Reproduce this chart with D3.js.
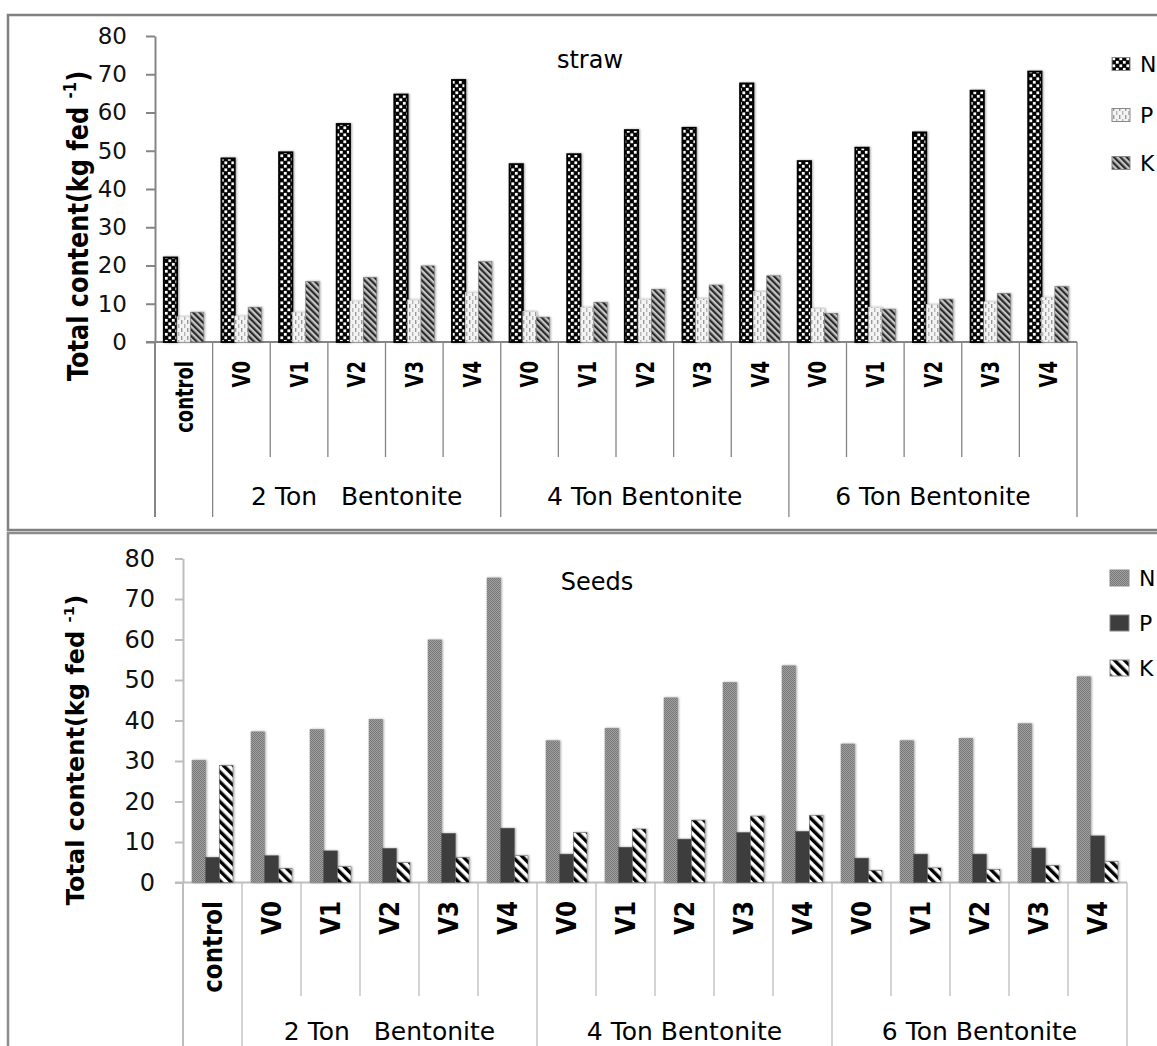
<!DOCTYPE html>
<html>
<head>
<meta charset="utf-8">
<script src="https://cdn.jsdelivr.net/npm/d3@7"></script>
<style>
  html, body { margin: 0; padding: 0; background: #fff; }
  svg { display: block; font-family: "DejaVu Sans", sans-serif; }
  text { white-space: pre; }
</style>
</head>
<body>
<svg id="chart" width="1157" height="1046"></svg>
<script>
// categories along the x axis
const categories = ["control", "V0", "V1", "V2", "V3", "V4", "V0", "V1", "V2", "V3", "V4", "V0", "V1", "V2", "V3", "V4"];
const groupLabels = ["2 Ton   Bentonite", "4 Ton Bentonite", "6 Ton Bentonite"];
const groupStart = [1, 6, 11];
const groupSize = 5;
const seriesNames = ["N", "P", "K"];
const yTicks = [0, 10, 20, 30, 40, 50, 60, 70, 80];

// straw (kg fed-1)
const strawN = [22.1, 48.0, 49.6, 57.0, 64.7, 68.5, 46.5, 49.1, 55.4, 56.0, 67.6, 47.3, 50.8, 54.8, 65.7, 70.7];
const strawP = [6.6, 6.8, 7.8, 10.7, 11.0, 13.0, 8.0, 9.1, 11.2, 11.4, 13.2, 8.8, 9.1, 9.8, 10.5, 11.7];
const strawK = [7.8, 9.1, 15.8, 16.9, 19.9, 21.0, 6.5, 10.4, 13.8, 14.9, 17.3, 7.5, 8.6, 11.2, 12.7, 14.5];

// seeds (kg fed-1)
const seedsN = [30.2, 37.2, 37.8, 40.3, 59.9, 75.2, 35.0, 38.1, 45.6, 49.4, 53.5, 34.2, 35.0, 35.6, 39.2, 50.8];
const seedsP = [6.2, 6.6, 7.8, 8.4, 12.1, 13.4, 7.0, 8.7, 10.7, 12.3, 12.6, 6.0, 7.0, 7.0, 8.5, 11.5];
const seedsK = [28.9, 3.5, 3.9, 4.9, 6.2, 6.6, 12.3, 13.2, 15.4, 16.4, 16.6, 3.0, 3.6, 3.2, 4.2, 5.2];

const svg = d3.select("#chart");
const defs = svg.append("defs");

// ----- patterns -----
function stripes(id, size, stripe, bg, fg) {
    const p = defs.append("pattern").attr("id", id)
        .attr("patternUnits", "userSpaceOnUse")
        .attr("width", size).attr("height", size)
        .attr("patternTransform", "rotate(-45)");
    p.append("rect").attr("width", size).attr("height", size).attr("fill", bg);
    p.append("rect").attr("width", stripe).attr("height", size).attr("fill", fg);
}

let p = defs.append("pattern").attr("id", "strawN").attr("patternUnits", "userSpaceOnUse").attr("width", 7).attr("height", 7);
p.append("rect").attr("width", 7).attr("height", 7).attr("fill", "#000");
p.append("rect").attr("x", 0.4).attr("y", 0.4).attr("width", 2.8).attr("height", 2.8).attr("fill", "#fff");
p.append("rect").attr("x", 3.9).attr("y", 3.9).attr("width", 2.8).attr("height", 2.8).attr("fill", "#fff");

p = defs.append("pattern").attr("id", "strawP").attr("patternUnits", "userSpaceOnUse").attr("width", 6).attr("height", 8);
p.append("rect").attr("width", 6).attr("height", 8).attr("fill", "#f3f3f3");
p.append("rect").attr("x", 1).attr("width", 1.4).attr("height", 4).attr("fill", "#9a9a9a");
p.append("rect").attr("x", 4).attr("y", 4).attr("width", 1.4).attr("height", 4).attr("fill", "#b5b5b5");

stripes("strawK", 4.5, 2.2, "#c4c4c4", "#2b2b2b");

p = defs.append("pattern").attr("id", "seedsN").attr("patternUnits", "userSpaceOnUse").attr("width", 2).attr("height", 2);
p.append("rect").attr("width", 2).attr("height", 2).attr("fill", "#a2a2a2");
p.append("rect").attr("width", 1).attr("height", 1).attr("fill", "#767676");
p.append("rect").attr("x", 1).attr("y", 1).attr("width", 1).attr("height", 1).attr("fill", "#767676");

stripes("seedsK", 7, 3.4, "#ffffff", "#000000");

const sh = defs.append("filter").attr("id", "shadow")
    .attr("x", "-40%").attr("y", "-10%").attr("width", "180%").attr("height", "120%");
sh.append("feDropShadow").attr("dx", 1).attr("dy", 0).attr("stdDeviation", 1.2)
    .attr("flood-color", "#000").attr("flood-opacity", 0.35);

// panel frames
svg.append("rect").attr("x", 8).attr("y", 15).attr("width", 1170).attr("height", 515)
    .attr("fill", "none").attr("stroke", "#808080").attr("stroke-width", 2.5);
svg.append("rect").attr("x", 8).attr("y", 533).attr("width", 1170).attr("height", 530)
    .attr("fill", "none").attr("stroke", "#8c8c8c").attr("stroke-width", 2.5);

function drawChart(o) {
    const g = svg.append("g");
    const data = [o.N, o.P, o.K];

    const x0 = d3.scaleBand().domain(d3.range(categories.length)).range([o.left, o.right]);
    const x1 = d3.scaleBand().domain(seriesNames).range([0, x0.bandwidth()]).paddingOuter(0.66);
    const y = d3.scaleLinear().domain([0, 80]).range([o.bottom, o.top]);

    // y axis
    const ya = g.append("g")
        .attr("transform", "translate(" + o.left + ",0)")
        .call(d3.axisLeft(y).tickValues(yTicks).tickSize(o.tick).tickSizeOuter(0).tickPadding(o.tickPad));
    ya.select(".domain").attr("stroke", o.axisColor).attr("stroke-width", 2);
    ya.selectAll(".tick line").attr("stroke", o.axisColor).attr("stroke-width", 2);
    ya.selectAll(".tick text")
        .attr("font-family", "DejaVu Sans").attr("font-size", o.tickFont).attr("fill", "#111");

    // category dividers
    const bounds = d3.range(categories.length + 1).map(i => i === categories.length ? o.right : x0(i));
    const longOnes = [0, 1, 6, 11, 16];
    g.selectAll(".div").data(bounds).join("line")
        .attr("x1", d => d).attr("x2", d => d)
        .attr("y1", y(0))
        .attr("y2", (d, i) => longOnes.includes(i) ? o.longEnd : o.shortEnd)
        .attr("stroke", o.axisColor).attr("stroke-width", (d, i) => i === 0 ? 2 : 1.3);

    // x axis line
    g.append("line")
        .attr("x1", o.left - o.tick).attr("x2", o.right)
        .attr("y1", y(0)).attr("y2", y(0))
        .attr("stroke", o.axisColor).attr("stroke-width", 2);

    // bars
    seriesNames.forEach((s, k) => {
        g.append("g").attr("filter", "url(#shadow)")
            .selectAll("rect").data(data[k]).join("rect")
            .attr("x", (d, i) => x0(i) + x1(s))
            .attr("y", d => y(d))
            .attr("width", x1.bandwidth())
            .attr("height", d => y(0) - y(d))
            .attr("fill", o.fills[k])
            .attr("stroke", o.strokes[k])
            .attr("stroke-width", o.strokeW[k]);
    });

    // category labels (rotated)
    g.selectAll(".xl").data(categories).join("text")
        .attr("transform", (d, i) => "translate(" + (x0(i) + x0.bandwidth() / 2) + "," + o.labelTop + ") rotate(-90) scale(1," + o.labelStretch + ")")
        .attr("text-anchor", "end")
        .attr("dy", "0.36em")
        .attr("font-size", o.labelFont)
        .attr("font-weight", "bold")
        .text(d => d);

    // group labels
    g.selectAll(".gl").data(groupLabels).join("text")
        .attr("x", (d, i) => (x0(groupStart[i]) + (groupStart[i] + groupSize < categories.length ? x0(groupStart[i] + groupSize) : o.right)) / 2)
        .attr("y", o.groupY)
        .attr("text-anchor", "middle")
        .attr("font-size", o.groupFont)
        .text(d => d);

    // y title
    const yt = g.append("text")
        .attr("transform", "translate(" + o.titleX + "," + o.titleY + ") rotate(-90) scale(1," + o.titleStretch + ")")
        .attr("text-anchor", "middle")
        .attr("font-size", o.titleFont)
        .attr("font-weight", "bold");
    yt.append("tspan").text("Total content(kg fed ");
    yt.append("tspan").attr("font-size", o.titleFont * 0.62).attr("dy", -o.titleFont * 0.42).text("-1");
    yt.append("tspan").attr("dy", o.titleFont * 0.42).text(")");

    // chart title
    g.append("text")
        .attr("x", o.nameX).attr("y", o.nameY)
        .attr("text-anchor", "middle")
        .attr("font-size", 24)
        .text(o.name);

    // legend
    const lg = g.selectAll(".lg").data(seriesNames).join("g")
        .attr("transform", (d, i) => "translate(" + o.legX + "," + o.legY[i] + ")");
    lg.append("rect")
        .attr("x", 0).attr("y", -o.swH / 2)
        .attr("width", o.swW).attr("height", o.swH)
        .attr("fill", (d, i) => o.fills[i])
        .attr("stroke", "#888").attr("stroke-width", 1);
    lg.append("text")
        .attr("x", o.swW + 10).attr("y", 0).attr("dy", "0.36em")
        .attr("font-size", 22)
        .text(d => d);
}

drawChart({
    name: "straw", nameX: 590, nameY: 68,
    N: strawN, P: strawP, K: strawK,
    fills: ["url(#strawN)", "url(#strawP)", "url(#strawK)"],
    strokes: ["#000", "#d0d0d0", "#777"], strokeW: [1.8, 0.6, 0.6],
    left: 155, right: 1077, top: 36, bottom: 342,
    tick: 9, tickPad: 19, tickFont: 23, axisColor: "#858585",
    shortEnd: 457, longEnd: 517,
    labelTop: 361, labelFont: 18, labelStretch: 1.35,
    groupY: 505, groupFont: 25,
    titleX: 88, titleY: 226, titleFont: 24, titleStretch: 1.15,
    legX: 1112, legY: [64, 115, 163], swW: 18, swH: 13
});

drawChart({
    name: "Seeds", nameX: 597, nameY: 590,
    N: seedsN, P: seedsP, K: seedsK,
    fills: ["url(#seedsN)", "#3d3d3d", "url(#seedsK)"],
    strokes: ["#8a8a8a", "#555", "#666"], strokeW: [0.6, 0.6, 0.6],
    left: 183, right: 1127, top: 558.5, bottom: 882.5,
    tick: 8, tickPad: 20, tickFont: 24, axisColor: "#bdbdbd",
    shortEnd: 996, longEnd: 1060,
    labelTop: 901, labelFont: 23, labelStretch: 1.15,
    groupY: 1040, groupFont: 25,
    titleX: 84, titleY: 750, titleFont: 24, titleStretch: 1.0,
    legX: 1110, legY: [578, 623, 668], swW: 19, swH: 16
});
</script>
</body>
</html>
